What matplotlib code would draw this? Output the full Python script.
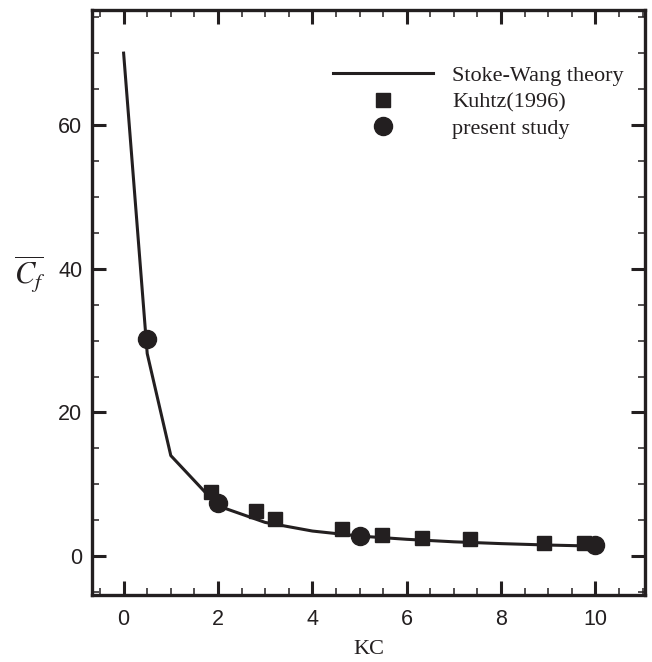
import matplotlib.pyplot as plt
from matplotlib.ticker import MultipleLocator

plt.rcParams["mathtext.fontset"] = "stix"

# Stoke-Wang theory curve
theory_kc = [0, 0.5, 1, 2, 3, 4, 5, 6, 7, 8, 9, 10]
theory_cf = [70, 28.2, 14, 7.0, 4.7, 3.5, 2.8, 2.35, 2.0, 1.75, 1.55, 1.4]

# Kuhtz (1996) measurements
kuhtz_kc = [1.86, 2.81, 3.21, 4.63, 5.47, 6.32, 7.35, 8.9, 9.75]
kuhtz_cf = [9.0, 6.3, 5.2, 3.8, 3.0, 2.55, 2.4, 1.86, 1.77]

# present study
present_kc = [0.5, 2, 5, 10]
present_cf = [30.2, 7.4, 2.8, 1.5]

ink = "#231f20"
serif = "Liberation Serif"
sans = "Liberation Sans"

fig = plt.figure(figsize=(6.52, 6.62), dpi=100)
ax = fig.add_axes([92 / 652, 1 - 595 / 662, 553 / 652, 585 / 662])

ax.plot(theory_kc, theory_cf, color=ink, lw=2.2, label="Stoke-Wang theory")
ax.plot(kuhtz_kc, kuhtz_cf, ls="none", marker="s", ms=9.5, color=ink,
        label="Kuhtz(1996)")
ax.plot(present_kc, present_cf, ls="none", marker="o", ms=13, color=ink,
        label="present study")

ax.set_xlim(-0.67, 11.05)
ax.set_ylim(-5.4, 76)
ax.xaxis.set_major_locator(MultipleLocator(2))
ax.xaxis.set_minor_locator(MultipleLocator(0.5))
ax.yaxis.set_major_locator(MultipleLocator(20))
ax.yaxis.set_minor_locator(MultipleLocator(5))

ax.tick_params(which="both", direction="in", top=True, right=True, color=ink)
ax.tick_params(which="major", length=10, width=2.2, labelsize=15.5)
ax.tick_params(axis="x", which="major", pad=10)
ax.tick_params(axis="y", which="major", pad=7)
ax.tick_params(which="minor", length=5, width=1.1)
for lab in ax.get_xticklabels() + ax.get_yticklabels():
    lab.set_fontfamily(sans)
    lab.set_color(ink)
for s in ax.spines.values():
    s.set_linewidth(2.4)
    s.set_color(ink)

ax.set_xlabel("KC", fontfamily=serif, fontsize=16, color=ink, labelpad=7)
ax.set_ylabel(r"$\overline{C_f}$", fontsize=22, color=ink, rotation=0)
ax.yaxis.set_label_coords(-0.112, 0.512)

leg = ax.legend(loc="upper left", bbox_to_anchor=(0.436, 0.905), frameon=False,
                numpoints=1, handlelength=4.5, handletextpad=0.85,
                labelspacing=0.26, borderpad=0, borderaxespad=0,
                prop={"family": serif, "size": 16})
for t in leg.get_texts():
    t.set_color(ink)

fig.savefig("out.png", dpi=100)
